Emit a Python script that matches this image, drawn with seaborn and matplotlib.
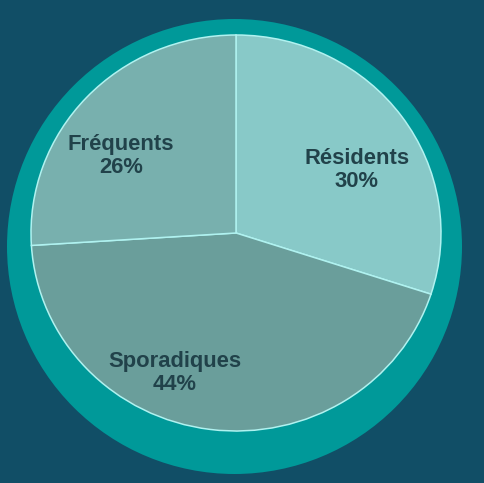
import matplotlib
matplotlib.use("Agg")
import matplotlib.pyplot as plt
from matplotlib.patches import Ellipse
import seaborn as sns

categories = ["Résidents", "Sporadiques", "Fréquents"]
values = [30, 44, 26]
colors = ["#88C9C8", "#6A9E9B", "#78B0AE"]

sns.set_theme(style="white")
plt.rcParams['font.family'] = ['Liberation Sans', 'DejaVu Sans']

bg = "#114E66"
fig = plt.figure(figsize=(4.84, 4.83), dpi=100, facecolor=bg)
ax = fig.add_axes([0, 0, 1, 1])
ax.set_facecolor(bg)

Rx, Ry = 205.0, 198.0
cx, cy = 236.0, 233.0

ring_r = 227.5
ring = Ellipse(((234.5 - cx) / Rx, (cy - 246.5) / Ry), 2 * ring_r / Rx, 2 * ring_r / Ry,
               facecolor="#009999", edgecolor="none", zorder=0)
ax.add_patch(ring)

wedges, _ = ax.pie(values, colors=colors, startangle=90, counterclock=False,
                   radius=1.0, center=(0, 0),
                   wedgeprops=dict(edgecolor="#B0F2F0", linewidth=1.1))
for w in wedges:
    w.set_zorder(2)

label_pos = {"Résidents": (357, 170), "Sporadiques": (175, 373), "Fréquents": (121, 156)}
for cat, v in zip(categories, values):
    px, py = label_pos[cat]
    ax.text((px - cx) / Rx, (cy - py) / Ry, f"{cat}\n{v}%", ha="center", va="center",
            fontsize=15.8, fontweight="bold", color="#21424A", linespacing=1.1, zorder=3)

ax.set_xlim((0 - cx) / Rx, (484 - cx) / Rx)
ax.set_ylim((cy - 483) / Ry, (cy - 0) / Ry)
ax.set_aspect("auto")
ax.axis("off")

fig.savefig("out.png", dpi=100, facecolor=bg)
